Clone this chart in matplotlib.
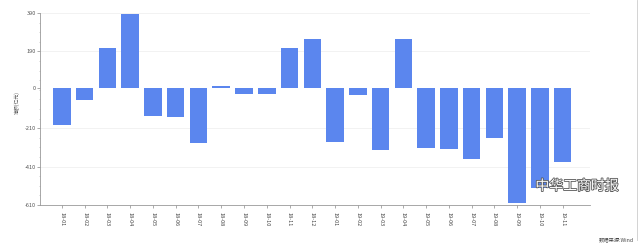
import matplotlib
matplotlib.use("Agg")
import matplotlib.pyplot as plt
import matplotlib.patheffects as pe
from matplotlib.ticker import FixedLocator

plt.rcParams['font.family'] = ['Noto Sans CJK SC', 'DejaVu Sans']

categories = ["18-01", "18-02", "18-03", "18-04", "18-05", "18-06", "18-07", "18-08",
              "18-09", "18-10", "18-11", "18-12", "19-01", "19-02", "19-03", "19-04",
              "19-05", "19-06", "19-07", "19-08", "19-09", "19-10", "19-11"]
values = [-193, -63, 210, 384, -144, -150, -285, 12, -33, -33, 207, 254,
          -280, -36, -323, 254, -311, -318, -370, -260, -598, -523, -384]
ytick_values = [390, 190, 0, -210, -410, -610]
ytick_labels = ["390", "190", "0", "-210", "-410", "-610"]

fig = plt.figure(figsize=(6.4, 2.45), dpi=100)
ax = fig.add_axes([40/640, 1 - 205/245, 550/640, 192/245])

x = list(range(len(categories)))
ax.bar(x, values, width=0.77, color="#5b86ee", zorder=2)

ax.set_xlim(-0.96, 23.2)
ax.set_ylim(-610, 390)
ax.set_yticks(ytick_values)
ax.set_yticklabels(ytick_labels, fontsize=4, color="#555555")
ax.yaxis.set_minor_locator(FixedLocator([390 - 50 * k for k in range(21)]))
ax.set_xticks(x)
ax.set_xticklabels(categories, rotation=270, fontsize=4, color="#444444")
ax.tick_params(axis='x', length=2, width=0.5, color="#888888", pad=3)
ax.tick_params(axis='y', which='major', length=2, width=0.5, color="#888888", pad=1)
ax.tick_params(axis='y', which='minor', length=1, width=0.4, color="#aaaaaa")

for s in ["top", "right"]:
    ax.spines[s].set_visible(False)
for s in ["left", "bottom"]:
    ax.spines[s].set_color("#999999")
    ax.spines[s].set_linewidth(0.6)

for v in [390, 190, -210, -410]:
    ax.axhline(v, color="#f0f0f0", linewidth=0.6, zorder=0)

fig.text(17/640, 1 - 103/245, "净额(亿元)", rotation=90, fontsize=3.5,
         color="#555555", ha="center", va="center")
fig.text(634/640, 1 - 240/245, "数据来源:Wind", fontsize=3.8, color="#444444",
         ha="right", va="center")

# right frame line of the picture
fig.add_artist(plt.Line2D([637/640, 637/640], [0.02, 1.0], color="#cccccc",
                          linewidth=0.6, transform=fig.transFigure))

# watermark
fig.text(577/640, 1 - 186/245, "中华工商时报", fontsize=10, color="white",
         ha="center", va="center",
         path_effects=[pe.withStroke(linewidth=1.2, foreground="#555555")])

fig.savefig("out.png", dpi=100)
